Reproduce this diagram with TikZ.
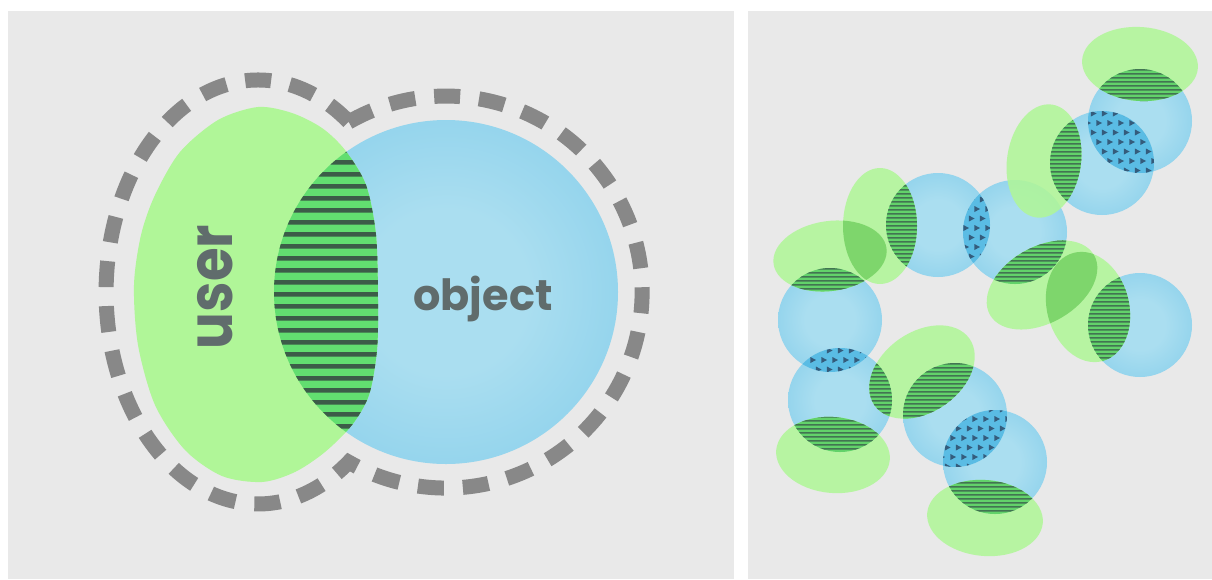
\documentclass[tikz,border=0pt]{standalone}
\usepackage{fontspec}
\usepackage{graphicx}
\newfontfamily\pop{Poppins}
\definecolor{panel}{RGB}{233,233,233}
\definecolor{dashgray}{RGB}{136,136,136}
\definecolor{ugreen}{RGB}{176,246,152}
\definecolor{hgreen}{RGB}{98,222,112}
\definecolor{hdark}{RGB}{60,92,72}
\definecolor{tgray}{RGB}{96,108,108}
\definecolor{ballin}{RGB}{170,222,240}
\definecolor{ballmid}{RGB}{132,205,234}
\definecolor{ballout}{RGB}{98,187,228}
\definecolor{rhbg}{RGB}{98,210,106}
\definecolor{rhdk}{RGB}{66,116,82}
\definecolor{tribg}{RGB}{90,188,228}
\definecolor{tridk}{RGB}{52,92,124}
\definecolor{stipc}{RGB}{126,214,108}
\pgfdeclareradialshading{ball}{\pgfpoint{0bp}{0bp}}{color(0bp)=(ballin); color(12bp)=(ballin); color(36bp)=(ballmid); color(50bp)=(ballout)}
\tikzset{
  dashring/.style={draw=dashgray, line width=15pt, dash pattern=on 26pt off 19pt},
  gblob/.style={fill=ugreen, fill opacity=0.87},
  label/.style={text=tgray, inner sep=0pt, anchor=base}
}
% right panel shapes
\newcommand\gell[5]{plot[domain=0:360,samples=61,variable=\t] ({#1+#3*cos(\t)*cos(#5)-#4*sin(\t)*sin(#5)},{#2+#3*cos(\t)*sin(#5)+#4*sin(\t)*cos(#5)}) -- cycle}
\def\Ba{(1140,121) circle[radius=52]}
\def\Bb{(1102,163) circle[radius=52]}
\def\Bc{(1015,232) circle[radius=52]}
\def\Bd{(938,225) circle[radius=52]}
\def\Be{(1140,325) circle[radius=52]}
\def\Bf{(830,320) circle[radius=52]}
\def\Bg{(840,400) circle[radius=52]}
\def\Bh{(955,415) circle[radius=52]}
\def\Bi{(995,462) circle[radius=52]}
\def\Ga{\gell{1140}{64}{58}{37}{4}}
\def\Gb{\gell{1044}{161}{37}{57}{8}}
\def\Gc{\gell{1042}{285}{60}{38}{-30}}
\def\Gd{\gell{1088}{307}{41}{56}{-15}}
\def\Ge{\gell{880}{226}{37}{58}{0}}
\def\Gf{\gell{830}{256}{57}{35}{-8}}
\def\Gg{\gell{922}{372}{58}{40}{-35}}
\def\Gh{\gell{833}{455}{57}{38}{5}}
\def\Gi{\gell{985}{518}{58}{38}{5}}
\newcommand\hatchR[3]{\begin{scope}\clip #1; \clip #2;
  \fill[rhbg] (740,#3-60) rectangle (1212,#3+60);
  \fill[rhdk] foreach \k in {0,...,30} {(740,{#3-60+4*\k}) rectangle (1212,{#3-58.5+4*\k})};
  \end{scope}}
\newcommand\triR[4]{\begin{scope}\clip #1; \clip #2;
  \fill[tribg] (#3-60,#4-60) rectangle (#3+60,#4+60);
  \foreach \i in {-6,...,6}{\foreach \j in {-7,...,7}{%
    \pgfmathsetmacro\xo{#3+11*\i+5.5*mod(\j+20,2)}%
    \pgfmathsetmacro\yo{#4+9.5*\j}%
    \fill[tridk] (\xo-2.6,\yo-3) -- (\xo+3,\yo) -- (\xo-2.6,\yo+3) -- cycle;}}
  \end{scope}}
\newcommand\stipR[2]{\begin{scope}\clip #1; \fill[stipc] #2; \end{scope}}
\def\userblob{plot[smooth cycle] coordinates {(258,107) (292,113) (322,128) (345,150) (366,185) (376,235) (378,300) (377,350) (369,395) (352,425) (325,452) (295,472) (262,482) (222,476) (185,450) (155,405) (138,345) (134,285) (141,235) (155,195) (180,152) (218,120)}}
\begin{document}
\begin{tikzpicture}[x=1pt,y=1pt,yscale=-1]
\useasboundingbox (0,0) rectangle (1212,579);
\fill[white] (0,0) rectangle (1212,579);
\fill[panel] (8,11) rectangle (734,579);
\fill[panel] (748,11) rectangle (1212,579);
% ---------- left panel ----------
\shade[shading=ball] (446,292) circle[radius=172];
\fill[fill=ugreen] \userblob;
\begin{scope}
  \clip (446,292) circle[radius=172];
  \clip \userblob;
  \fill[hgreen] (260,100) rectangle (400,490);
  \fill[hdark] foreach \k in {0,...,28} {(260,{148+12*\k}) rectangle (400,{152.5+12*\k})};
\end{scope}
\draw[dashring] (348.7,122) arc[start angle=-119.8, end angle=119.8, radius=196]
  arc[start angle=53.4, end angle=306.6, x radius=152, y radius=212] -- cycle;
\node[label, rotate=90] (user) at (232,287) {\scalebox{0.88}[1]{\fontsize{62}{62}\selectfont\pop\bfseries user}};
\node[label] (object) at (483,310) {\fontsize{43}{43}\selectfont\pop\bfseries object};
% ---------- right panel ----------
\foreach \c in {\Ba,\Bb,\Bc,\Bd,\Be,\Bf,\Bg,\Bh,\Bi}{\shade[shading=ball] \c;}
\foreach \g in {\Ga,\Gb,\Gc,\Gd,\Ge,\Gf,\Gg,\Gh,\Gi}{\fill[gblob] \g;}
\hatchR{\Ga}{\Ba}{121}
\hatchR{\Gb}{\Bb}{163}
\hatchR{\Gc}{\Bc}{232}
\hatchR{\Gd}{\Be}{325}
\hatchR{\Ge}{\Bd}{225}
\hatchR{\Gf}{\Bf}{320}
\hatchR{\Gg}{\Bg}{400}
\hatchR{\Gg}{\Bh}{415}
\hatchR{\Gh}{\Bg}{400}
\hatchR{\Gi}{\Bi}{462}
\triR{\Ba}{\Bb}{1121}{142}
\triR{\Bc}{\Bd}{977}{228}
\triR{\Bf}{\Bg}{835}{360}
\triR{\Bh}{\Bi}{975}{438}
\stipR{\Gc}{\Gd}
\stipR{\Ge}{\Gf}
\end{tikzpicture}
\end{document}
